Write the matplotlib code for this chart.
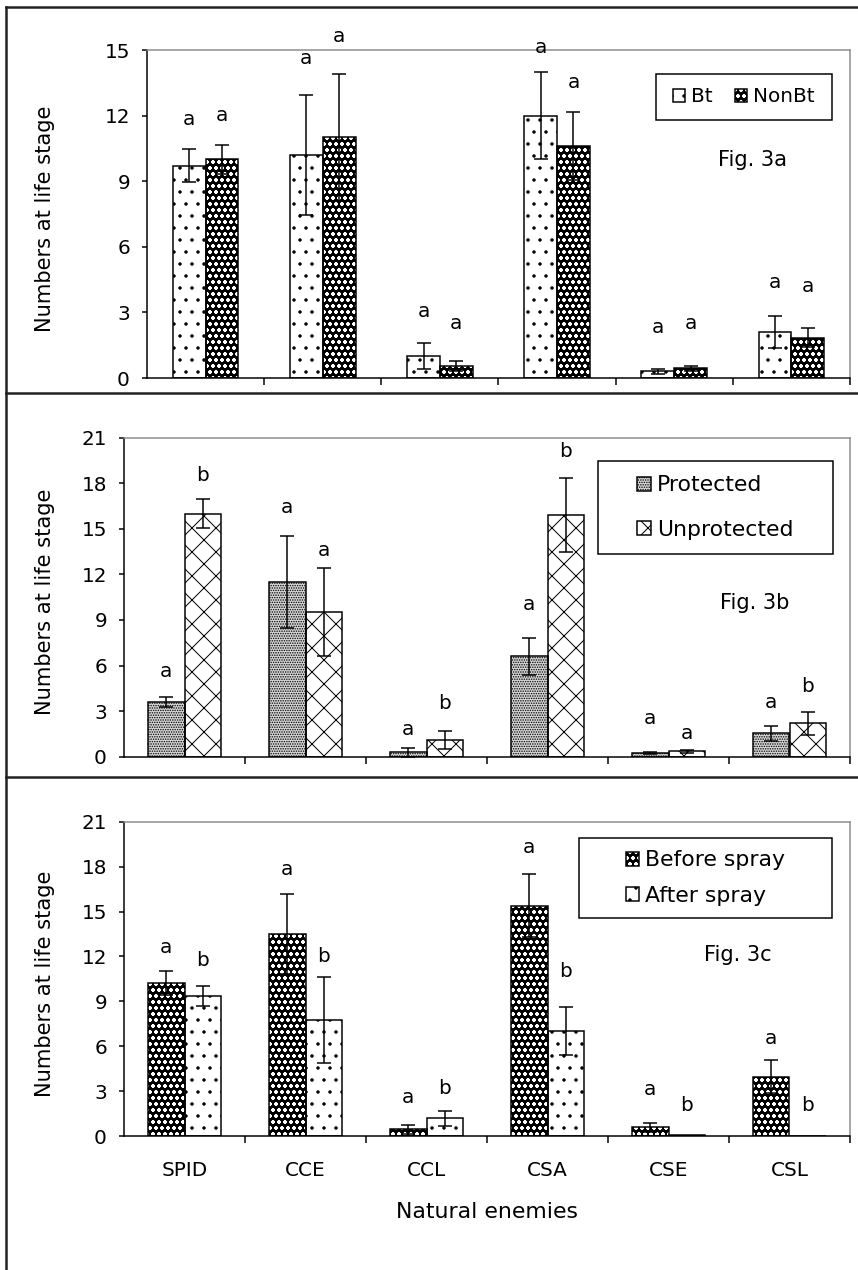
import numpy as np
import matplotlib
matplotlib.use("Agg")
import matplotlib.pyplot as plt
from matplotlib.patches import Patch, Rectangle
from matplotlib.lines import Line2D

categories = ["SPID", "CCE", "CCL", "CSA", "CSE", "CSL"]

# Fig. 3a
bt = [9.7, 10.2, 1.0, 12.0, 0.3, 2.1]
bt_se = [0.75, 2.75, 0.6, 2.0, 0.12, 0.75]
bt_let = ["a", "a", "a", "a", "a", "a"]
bt_let_y = [11.8, 14.6, 3.05, 15.1, 2.3, 4.35]
nonbt = [10.0, 11.0, 0.55, 10.6, 0.45, 1.85]
nonbt_se = [0.65, 2.9, 0.25, 1.55, 0.12, 0.45]
nonbt_let = ["a", "a", "a", "a", "a", "a"]
nonbt_let_y = [12.0, 15.6, 2.5, 13.5, 2.5, 4.2]

# Fig. 3b
prot = [3.6, 11.5, 0.3, 6.6, 0.25, 1.55]
prot_se = [0.35, 3.0, 0.3, 1.2, 0.05, 0.5]
prot_let = ["a", "a", "a", "a", "a", "a"]
prot_let_y = [5.6, 16.4, 1.8, 10.0, 2.5, 3.6]
unprot = [16.0, 9.5, 1.1, 15.9, 0.35, 2.2]
unprot_se = [0.95, 2.9, 0.6, 2.45, 0.1, 0.75]
unprot_let = ["b", "a", "b", "b", "a", "b"]
unprot_let_y = [18.5, 13.6, 3.5, 20.1, 1.55, 4.6]

# Fig. 3c
before = [10.2, 13.5, 0.45, 15.4, 0.6, 3.95]
before_se = [0.8, 2.7, 0.3, 2.1, 0.3, 1.1]
before_let = ["a", "a", "a", "a", "a", "a"]
before_let_y = [12.6, 17.8, 2.6, 19.3, 3.1, 6.5]
after = [9.35, 7.75, 1.2, 7.0, 0.05, 0.0]
after_se = [0.65, 2.9, 0.5, 1.6, 0.0, 0.0]
after_let = ["b", "b", "b", "b", "b", "b"]
after_let_y = [11.75, 12.0, 3.2, 11.0, 2.07, 2.07]

W, H, DPI = 858, 1270, 72
plt.rcParams["font.family"] = "DejaVu Sans"
plt.rcParams["hatch.linewidth"] = 1.0

STY = {
    "dots": ("white", ".", "black"),
    "dark": ("black", "oo", "white"),
    "fine": ("#d8d8d8", ".....", "black"),
    "cross": ("white", "x", "black"),
}


def fx(p):
    return p / W


def fy(p):
    return 1 - p / H


fig = plt.figure(figsize=(W / DPI, H / DPI), dpi=DPI)


def panel(box, ymax, series, width, figlab, figpos, leg, last=False):
    l, t, r, b = box
    ax = fig.add_axes([fx(l), fy(b), (r - l) / W, (b - t) / H])
    x = np.arange(len(categories))
    handles = []
    for i, (lab, m, se, lets, ly, sty) in enumerate(series):
        face, hat, hc = STY[sty]
        pos = x + (i - 0.5) * width
        m = np.array(m)
        se = np.array(se)
        ax.bar(pos, m, width, color=face, edgecolor=hc, hatch=hat, linewidth=0, zorder=2)
        ax.bar(pos, m, width, fill=False, edgecolor="black", linewidth=1.5, zorder=3)
        ok = se > 0
        ax.errorbar(pos[ok], m[ok], yerr=se[ok], fmt="none", ecolor="black",
                    elinewidth=1.5, capsize=7, capthick=1.5, zorder=4)
        for p, s, yy in zip(pos, lets, ly):
            ax.text(p, yy, s, ha="center", va="center", fontsize=20)
        handles.append((Patch(facecolor=face, edgecolor=hc, hatch=hat, linewidth=0),
                        Patch(fill=False, edgecolor="black", linewidth=1.5)))
    ax.set_xlim(-0.5, len(categories) - 0.5)
    ax.set_ylim(0, ymax)
    ax.set_yticks(range(0, ymax + 1, 3))
    ax.set_xticks(np.arange(0.5, len(categories), 1))
    ax.set_xticklabels([])
    ax.set_xticks(x, minor=True)
    ax.set_xticklabels(categories if last else [], minor=True)
    ax.tick_params(axis="y", direction="out", length=5, width=1.5, labelsize=20, pad=12)
    ax.tick_params(axis="x", which="major", direction="out", length=7, width=1.5)
    ax.tick_params(axis="x", which="minor", length=0, labelsize=20, pad=25)
    for s in ("left", "bottom"):
        ax.spines[s].set_linewidth(1.5)
    for s in ("top", "right"):
        ax.spines[s].set_color("#8c8c8c")
        ax.spines[s].set_linewidth(1.5)
    ax.set_ylabel("Numbers at life stage", fontsize=21)
    ax.yaxis.set_label_coords((55 - l) / (r - l), 0.485, transform=ax.transAxes)
    ax.text(figpos[0], figpos[1], figlab, transform=ax.transAxes,
            ha="center", va="center", fontsize=21)
    (bx0, by0, bx1, by1), ncol, fs, lsp = leg
    ax.legend(handles, [s[0] for s in series], loc="center", frameon=False, ncol=ncol,
              bbox_to_anchor=(fx((bx0 + bx1) / 2), fy((by0 + by1) / 2)),
              bbox_transform=fig.transFigure, fontsize=fs, handlelength=0.6,
              handleheight=0.6, handletextpad=0.3, columnspacing=1.1,
              labelspacing=lsp, borderpad=0.2)
    fig.add_artist(Rectangle((fx(bx0), fy(by1)), (bx1 - bx0) / W, (by1 - by0) / H,
                             transform=fig.transFigure, fill=False,
                             edgecolor="black", linewidth=1.5))
    if last:
        ax.set_xlabel("Natural enemies", fontsize=22, labelpad=22)
    return ax


panel((147, 50, 850, 378), 15,
      [("Bt", bt, bt_se, bt_let, bt_let_y, "dots"),
       ("NonBt", nonbt, nonbt_se, nonbt_let, nonbt_let_y, "dark")],
      0.28, "Fig. 3a", (0.861, 0.665), ((656, 74, 832, 120), 2, 20, 0.5))

panel((124, 437.7, 850, 756.7), 21,
      [("Protected", prot, prot_se, prot_let, prot_let_y, "fine"),
       ("Unprotected", unprot, unprot_se, unprot_let, unprot_let_y, "cross")],
      0.3, "Fig. 3b", (0.869, 0.482), ((598, 461, 833, 554), 1, 22, 1.1))

panel((124, 821.7, 850, 1136), 21,
      [("Before spray", before, before_se, before_let, before_let_y, "dark"),
       ("After spray", after, after_se, after_let, after_let_y, "dots")],
      0.3, "Fig. 3c", (0.846, 0.576), ((579, 838, 832, 918), 1, 22, 0.7), last=True)

# outer frame and panel separators
for (x0, y0, x1, y1) in [(6, 7, 858, 7), (6, 7, 6, 1270), (6, 393, 858, 393), (6, 777, 858, 777)]:
    fig.add_artist(Line2D([fx(x0), fx(x1)], [fy(y0), fy(y1)], transform=fig.transFigure,
                          color="#222222", linewidth=2.5))

fig.savefig("out.png", dpi=DPI)
